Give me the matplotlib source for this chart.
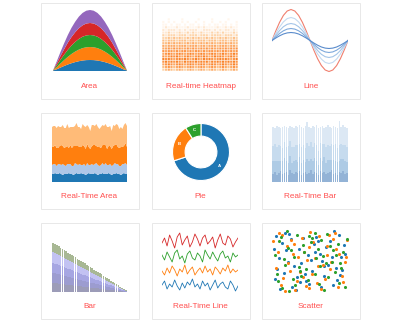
import numpy as np
import matplotlib
matplotlib.use("Agg")
import matplotlib.pyplot as plt
from matplotlib.patches import Rectangle
from matplotlib.colors import LinearSegmentedColormap

plt.rcParams["font.family"] = ["Liberation Sans", "DejaVu Sans"]

# card titles, row by row
titles = ["Area", "Real-time Heatmap", "Line",
          "Real-Time Area", "Pie", "Real-Time Bar",
          "Bar", "Real-Time Line", "Scatter"]

# --- Area (stacked, bottom to top) ---
area_blue = [0.5, 1.7, 3.4, 5.0, 6.5, 7.8, 8.9, 9.8, 10.5, 10.9, 11.0,
             10.9, 10.5, 9.8, 8.9, 7.8, 6.5, 5.0, 3.4, 1.7, 0.5]
area_orange = [0, 2.0, 4.0, 5.9, 7.6, 9.2, 10.5, 11.6, 12.4, 12.8, 13.0,
               12.8, 12.4, 11.6, 10.5, 9.2, 7.6, 5.9, 4.0, 2.0, 0]
area_green = [0, 1.9, 3.7, 5.4, 7.1, 8.5, 9.7, 10.7, 11.4, 11.9, 12.0,
              11.9, 11.4, 10.7, 9.7, 8.5, 7.1, 5.4, 3.7, 1.9, 0]
area_red = [0, 1.9, 3.7, 5.4, 7.1, 8.5, 9.7, 10.7, 11.4, 11.9, 12.0,
            11.9, 11.4, 10.7, 9.7, 8.5, 7.1, 5.4, 3.7, 1.9, 0]
area_purple = [0, 2.0, 4.0, 5.9, 7.6, 9.2, 10.5, 11.6, 12.4, 12.8, 13.0,
               12.8, 12.4, 11.6, 10.5, 9.2, 7.6, 5.9, 4.0, 2.0, 0]

# --- Real-time heatmap, intensity 0-8, top row first ---
heat_rows = [
    "0010000 1000001 0000100 0001000",
    "1010100 1010010 0100100 1010001",
    "1101011 0101101 0101011 0110101",
    "1211121 1121112 1211112 1121211",
    "2122212 1212221 1222121 2122121",
    "2232223 2232322 3222323 2322232",
    "3233323 3323332 3332333 3233323",
    "3343434 3343434 3343433 4343343",
    "4344434 4434434 4434443 4443444",
    "4454545 4454544 5454544 5454544",
    "5455545 5545554 5545554 5554554",
    "5565656 5565655 6565655 6565656",
    "6566565 6656566 5656656 5665656",
    "5676567 6567656 7656765 6765676",
    "6567676 5676567 6765676 7656765",
    "7676567 6765676 5767656 7676567",
    "6767676 5767676 7675767 6767676",
    "5676567 6567656 7656765 6765676",
    "4565456 5456545 6545654 5654565",
    "3454345 4345434 5434543 4543454",
]

# --- Line (one period, largest first) ---
line_red = [0, 9.6, 18.2, 25.1, 29.5, 31, 29.5, 25.1, 18.2, 9.6, 0,
            -9.6, -18.2, -25.1, -29.5, -31, -29.5, -25.1, -18.2, -9.6, 0]
line_b1 = [0, 7.1, 13.5, 18.6, 21.9, 23, 21.9, 18.6, 13.5, 7.1, 0,
           -7.1, -13.5, -18.6, -21.9, -23, -21.9, -18.6, -13.5, -7.1, 0]
line_b2 = [0, 5.3, 10.0, 13.8, 16.2, 17, 16.2, 13.8, 10.0, 5.3, 0,
           -5.3, -10.0, -13.8, -16.2, -17, -16.2, -13.8, -10.0, -5.3, 0]
line_b3 = [0, 3.7, 7.1, 9.7, 11.4, 12, 11.4, 9.7, 7.1, 3.7, 0,
           -3.7, -7.1, -9.7, -11.4, -12, -11.4, -9.7, -7.1, -3.7, 0]
line_b4 = [0, 2.5, 4.7, 6.5, 7.6, 8, 7.6, 6.5, 4.7, 2.5, 0,
           -2.5, -4.7, -6.5, -7.6, -8, -7.6, -6.5, -4.7, -2.5, 0]

# --- Real-time area (stacked, bottom to top) ---
rta_dark = [8, 8, 9, 8, 8, 9, 8, 7, 8, 8, 8, 9, 8, 8, 7, 8, 9, 8, 8, 9,
            8, 8, 7, 8, 9, 8, 8, 8, 9, 8, 7, 8, 8, 9, 8, 8, 8, 9, 8, 7,
            8, 8, 9, 8, 8, 7, 8, 9, 8, 8]
rta_light = [9, 10, 9, 8, 10, 9, 9, 11, 9, 8, 10, 9, 10, 8, 9, 11, 9, 9, 10, 8,
             9, 10, 9, 11, 8, 9, 10, 9, 9, 11, 10, 8, 9, 10, 9, 11, 9, 8, 10, 9,
             9, 11, 9, 10, 8, 9, 10, 9, 11, 9]
rta_orange = [18, 17, 19, 18, 16, 18, 20, 18, 17, 19, 18, 16, 19, 18, 20, 17, 18, 19, 17, 18,
              20, 18, 17, 19, 18, 16, 18, 20, 19, 17, 18, 19, 17, 18, 20, 18, 16, 19, 18, 17,
              19, 18, 20, 17, 18, 19, 17, 18, 20, 18]
rta_peach = [20, 21, 19, 20, 22, 19, 18, 21, 20, 19, 22, 20, 18, 21, 19, 20, 23, 19, 20, 18,
             21, 20, 22, 19, 20, 18, 21, 20, 19, 22, 20, 18, 21, 20, 19, 21, 22, 19, 20, 18,
             21, 19, 20, 22, 19, 20, 18, 21, 20, 21]

# --- Pie ---
pie_labels = ["A", "B", "C"]
pie_values = [70, 21, 9]

# --- Real-time bar (stacked, bottom to top) ---
rtb_1 = [8, 10, 7, 9, 11, 8, 9, 10, 7, 12, 9, 8, 10, 9, 11, 7, 9, 10, 8, 9,
         12, 8, 10, 9, 7, 11, 9, 10, 8, 9, 10, 12, 8, 9, 7, 10, 9, 11, 8, 9]
rtb_2 = [13, 11, 14, 12, 10, 13, 15, 11, 12, 14, 10, 13, 12, 11, 14, 12, 13, 10, 15, 12,
         11, 13, 14, 12, 10, 13, 12, 15, 11, 13, 12, 10, 14, 12, 13, 11, 14, 12, 13, 11]
rtb_3 = [15, 17, 14, 16, 15, 13, 16, 14, 17, 15, 16, 14, 15, 17, 13, 16, 15, 14, 16, 15,
         17, 14, 15, 16, 14, 15, 17, 13, 16, 15, 14, 16, 15, 17, 14, 16, 15, 14, 16, 15]
rtb_4 = [19, 16, 21, 18, 18, 21, 16, 20, 18, 15, 20, 19, 19, 18, 19, 20, 17, 22, 21, 19,
         14, 21, 16, 20, 23, 16, 18, 16, 20, 20, 19, 16, 19, 17, 20, 24, 17, 20, 18, 19]

# --- Bar (stacked, bottom to top) ---
bar_1 = [9.0, 8.8, 8.6, 8.3, 8.1, 7.9, 7.7, 7.4, 7.2, 7.0, 6.8, 6.5, 6.3, 6.1, 5.9, 5.6,
         5.4, 5.2, 5.0, 4.7, 4.5, 4.3, 4.1, 3.8, 3.6, 3.4, 3.2, 2.9, 2.7, 2.5, 2.3, 2.0,
         1.8, 1.6, 1.4, 1.1, 0.9, 0.7, 0.5, 0.3]
bar_2 = [10.0, 9.8, 9.5, 9.3, 9.0, 8.8, 8.5, 8.3, 8.0, 7.8, 7.5, 7.3, 7.0, 6.8, 6.5, 6.3,
         6.0, 5.8, 5.5, 5.3, 5.0, 4.8, 4.5, 4.3, 4.0, 3.8, 3.5, 3.3, 3.0, 2.8, 2.5, 2.3,
         2.0, 1.8, 1.5, 1.3, 1.0, 0.8, 0.5, 0.3]
bar_3 = [10.2, 9.9, 9.7, 9.4, 9.2, 8.9, 8.6, 8.4, 8.1, 7.9, 7.6, 7.4, 7.1, 6.9, 6.6, 6.4,
         6.1, 5.9, 5.6, 5.4, 5.1, 4.8, 4.6, 4.3, 4.1, 3.8, 3.6, 3.3, 3.1, 2.8, 2.6, 2.3,
         2.1, 1.8, 1.6, 1.3, 1.1, 0.8, 0.6, 0.3]
bar_4 = [11.0, 10.7, 10.5, 10.2, 9.9, 9.6, 9.4, 9.1, 8.8, 8.5, 8.3, 8.0, 7.7, 7.4, 7.2, 6.9,
         6.6, 6.3, 6.1, 5.8, 5.5, 5.2, 5.0, 4.7, 4.4, 4.1, 3.9, 3.6, 3.3, 3.0, 2.8, 2.5,
         2.2, 1.9, 1.7, 1.4, 1.1, 0.8, 0.6, 0.3]
bar_5 = [9.0, 8.8, 8.6, 8.4, 8.2, 8.0, 7.7, 7.5, 7.3, 7.1, 6.9, 6.7, 6.5, 6.2, 6.0, 5.8,
         5.6, 5.4, 5.2, 5.0, 4.7, 4.5, 4.3, 4.1, 3.9, 3.7, 3.5, 3.2, 3.0, 2.8, 2.6, 2.4,
         2.2, 2.0, 1.7, 1.5, 1.3, 1.1, 0.9, 0.7]

# --- Real-time line ---
rtl_red = [50, 55, 47, 58, 52, 45, 56, 60, 48, 53, 57, 46, 51, 59, 54, 47,
           55, 58, 49, 52, 56, 45, 53, 59, 50, 48, 57, 54, 46, 51, 55]
rtl_green = [38, 33, 41, 36, 31, 40, 43, 34, 37, 30, 39, 42, 35, 33, 40, 37,
             31, 43, 38, 34, 41, 36, 32, 39, 42, 35, 37, 31, 40, 36, 38]
rtl_orange = [22, 18, 25, 20, 27, 23, 17, 24, 21, 28, 19, 23, 26, 18, 22, 25,
              20, 27, 21, 24, 18, 26, 23, 19, 25, 22, 28, 20, 24, 21, 23]
rtl_blue = [8, 12, 4, 9, 6, 13, 7, 3, 10, 5, 11, 8, 14, 6, 9, 4,
            12, 7, 10, 3, 8, 13, 5, 9, 11, 6, 4, 12, 8, 2, 7]

# --- Scatter ---
sc_blue_x = [5, 12, 22, 35, 41, 58, 63, 77, 88, 95, 8, 18, 29, 47, 52, 66, 71, 84, 91, 3,
             15, 26, 38, 44, 57, 69, 80, 93, 10, 21, 33, 49, 61, 74, 86, 97, 6, 17, 31, 43,
             55, 64, 79, 90, 2, 24, 37, 51, 68, 82]
sc_blue_y = [92, 80, 95, 71, 88, 90, 62, 84, 93, 77, 55, 68, 43, 60, 35, 51, 74, 40, 58, 22,
             31, 8, 47, 18, 66, 27, 12, 36, 5, 50, 25, 14, 83, 45, 20, 63, 38, 97, 3, 29,
             78, 9, 57, 28, 70, 86, 16, 53, 42, 99]
sc_orange_x = [9, 19, 27, 39, 46, 54, 67, 75, 85, 98, 4, 14, 24, 36, 49, 59, 72, 81, 92, 11,
               20, 30, 42, 53, 62, 76, 87, 96, 7, 16, 28, 45, 56, 70, 83, 94, 1, 23, 34, 48,
               60, 73, 89, 13, 40, 65, 78, 99, 32, 50]
sc_orange_y = [97, 75, 63, 88, 52, 82, 45, 94, 70, 58, 40, 23, 85, 33, 73, 15, 61, 87, 27, 12,
               48, 4, 66, 30, 91, 37, 8, 49, 65, 2, 79, 10, 55, 22, 96, 17, 83, 34, 57, 6,
               42, 76, 62, 93, 25, 5, 50, 85, 18, 98]
sc_green_x = [3, 11, 21, 32, 44, 56, 65, 79, 87, 94, 7, 17, 28, 38, 51, 62, 73, 83, 99, 13,
              25, 35, 47, 58, 69, 77, 90, 6, 19, 30, 42, 53, 63, 74, 85, 96, 9, 22, 36, 49,
              61, 71, 88, 15, 41, 57, 81, 27, 67, 91]
sc_green_y = [60, 90, 72, 94, 38, 97, 85, 50, 79, 66, 18, 44, 57, 26, 81, 13, 95, 33, 86, 6,
              69, 41, 20, 56, 3, 76, 47, 30, 99, 11, 65, 88, 42, 24, 60, 9, 83, 2, 35, 92,
              70, 48, 15, 54, 77, 29, 68, 22, 59, 40]

W, H = 400, 323
fig = plt.figure(figsize=(4, 3.23), dpi=100)

# background layer with the cards and their captions (pixel coords)
bg = fig.add_axes([0, 0, 1, 1])
bg.set_xlim(0, W)
bg.set_ylim(H, 0)
bg.axis("off")

card_x = [40, 151, 261]
card_y = [2, 112, 222]
for r in range(3):
    for c in range(3):
        bg.add_patch(Rectangle((card_x[c] + 0.5, card_y[r] + 0.5), 98, 96,
                               fill=False, edgecolor="#e8e8e8", linewidth=0.7))
        bg.text(card_x[c] + 49.5, card_y[r] + 84.5, titles[r * 3 + c],
                ha="center", va="center", fontsize=5.9, color="#ff4f4f")


def panel(x0, y0, x1, y1):
    ax = fig.add_axes([x0 / W, 1 - y1 / H, (x1 - x0) / W, (y1 - y0) / H])
    ax.axis("off")
    ax.margins(0)
    return ax


# Area
ax = panel(53, 10, 127, 71)
xs = np.arange(len(area_blue))
ax.stackplot(xs, area_blue, area_orange, area_green, area_red, area_purple,
             colors=["#1f77b4", "#ff7f0e", "#2ca02c", "#d62728", "#9467bd"],
             linewidth=0)
ax.set_xlim(0, len(area_blue) - 1)
ax.set_ylim(0, 61)

# Real-time heatmap
ax = panel(162, 18, 238, 71)
heat = np.array([[int(ch) for ch in row.replace(" ", "")] for row in heat_rows])
cmap = LinearSegmentedColormap.from_list(
    "orng", ["#ffffff", "#fff0e2", "#fdd0a2", "#fdae6b", "#fd8d3c", "#f3740f"])
ncol = heat.shape[1]
for r, row in enumerate(heat[::-1]):
    ax.bar(np.arange(ncol), 0.8, bottom=r + 0.1, width=0.8,
           color=cmap(row / 8), linewidth=0, snap=False)
ax.set_xlim(-0.5, ncol - 0.5)
ax.set_ylim(0, heat.shape[0])

# Line
ax = panel(272, 8, 348, 73)
xs = np.arange(len(line_red))
for ys, col in [(line_red, "#f07f6e"), (line_b1, "#c4daf0"), (line_b2, "#a4c5e8"),
                (line_b3, "#7ea9dc"), (line_b4, "#5a8ccc")]:
    ax.plot(xs, ys, color=col, linewidth=0.8)
ax.set_xlim(0, len(line_red) - 1)
ax.set_ylim(-32.5, 32.5)

# Real-time area
ax = panel(52, 121, 127, 182)
xs = np.arange(len(rta_dark))
ax.stackplot(xs, rta_dark, rta_light, rta_orange, rta_peach,
             colors=["#1f77b4", "#aec7e8", "#ff7f0e", "#ffbb78"], linewidth=0)
ax.set_xlim(0, len(rta_dark) - 1)
ax.set_ylim(0, 61)

# Pie
ax = panel(171, 122, 231, 182)
wedges, texts = ax.pie(pie_values, labels=pie_labels, startangle=90, counterclock=False,
                       colors=["#1f77b4", "#ff7f0e", "#2ca02c"], radius=0.95,
                       labeldistance=0.77 / 0.95,
                       wedgeprops=dict(width=0.42, edgecolor="white", linewidth=0.8),
                       textprops=dict(color="white", fontsize=3.2, fontweight="bold"))
for t in texts:
    t.set_ha("center")
    t.set_va("center")
ax.set_xlim(-1, 1)
ax.set_ylim(-1, 1)
ax.set_aspect("equal")

# Real-time bar
ax = panel(272, 120, 348, 182)
xs = np.arange(len(rtb_1))
bottom = np.zeros(len(rtb_1))
for vals, col in [(rtb_1, "#93b3d6"), (rtb_2, "#aecbe5"), (rtb_3, "#c6dbee"), (rtb_4, "#dce8f4")]:
    ax.bar(xs, vals, bottom=bottom, width=0.8, color=col, linewidth=0)
    bottom = bottom + np.array(vals)
ax.set_xlim(-0.6, len(rtb_1) - 0.4)
ax.set_ylim(0, 62)

# Bar
ax = panel(52, 242, 127, 292)
xs = np.arange(len(bar_1))
bottom = np.zeros(len(bar_1))
for vals, col in [(bar_1, "#9c9cb8"), (bar_2, "#9c9cd0"), (bar_3, "#a6a6e2"),
                  (bar_4, "#c2c2f2"), (bar_5, "#a8b894")]:
    ax.bar(xs, vals, bottom=bottom, width=0.86, color=col, linewidth=0)
    bottom = bottom + np.array(vals)
ax.set_xlim(-0.6, len(bar_1) - 0.4)
ax.set_ylim(0, 50)

# Real-time line
ax = panel(162, 231, 238, 293)
xs = np.arange(len(rtl_red))
for ys, col in [(rtl_red, "#d62728"), (rtl_green, "#2ca02c"),
                (rtl_orange, "#ff7f0e"), (rtl_blue, "#1f77b4")]:
    ax.plot(xs, ys, color=col, linewidth=0.6)
ax.set_xlim(0, len(rtl_red) - 1)
ax.set_ylim(0, 62)

# Scatter
ax = panel(271, 229, 349, 294)
for sx, sy, col in [(sc_blue_x, sc_blue_y, "#1f77b4"), (sc_orange_x, sc_orange_y, "#ff7f0e"),
                    (sc_green_x, sc_green_y, "#2ca02c")]:
    ax.scatter(sx, sy, s=5, color=col, linewidths=0)
ax.set_xlim(-2, 102)
ax.set_ylim(-3, 103)

fig.savefig("out.png", dpi=100)
